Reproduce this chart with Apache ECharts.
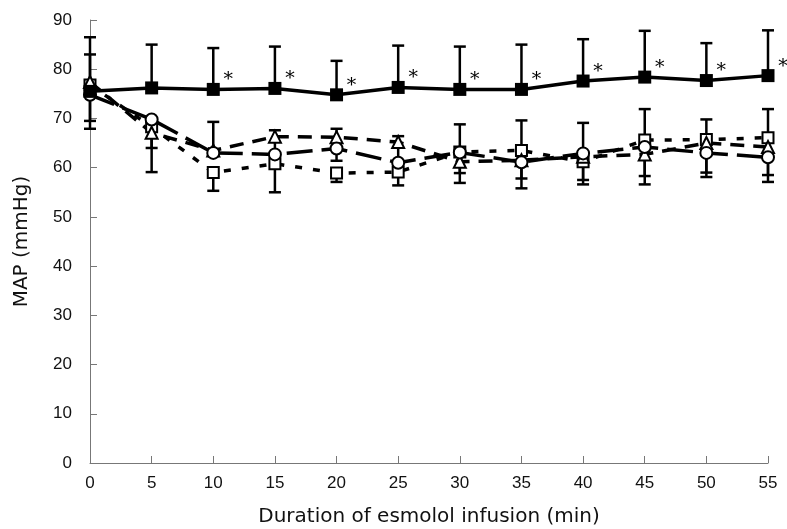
<!DOCTYPE html>
<html>
<head>
<meta charset="utf-8">
<script src="https://cdn.jsdelivr.net/npm/echarts@6/dist/echarts.min.js"></script>
<style>
html, body { margin: 0; padding: 0; background: #fff; }
#p1 { width: 787px; height: 529px; }
</style>
</head>
<body>
<div id="p1"></div>
<script>
// minutes of esmolol infusion
var times = [0, 5, 10, 15, 20, 25, 30, 35, 40, 45, 50, 55];

// mean MAP per group (mmHg)
var filledSq = [75.5, 76.2, 75.9, 76.1, 74.8, 76.3, 75.9, 75.9, 77.6, 78.4, 77.7, 78.7];
var openSq = [76.8, 68.3, 59.0, 60.8, 58.9, 59.1, 63.2, 63.5, 61.2, 65.6, 65.7, 66.1];
var openTri = [77.4, 67.1, 63.5, 66.3, 66.2, 65.2, 61.2, 61.5, 62.2, 62.7, 65.0, 64.2];
var openCirc = [74.8, 69.8, 63.0, 62.7, 63.9, 61.0, 63.1, 61.1, 62.9, 64.2, 63.0, 62.1];

// error bar end values (null = no bar)
var filledSqTop = [86.5, 85.0, 84.3, 84.6, 81.7, 84.8, 84.6, 85.0, 86.1, 87.8, 85.3, 87.9];
var openCircTop = [83.0, null, 69.3, 67.6, 67.9, 66.4, 68.8, 69.6, 69.1, 71.9, 69.8, 71.9];
var openTriLow = [69.5, 64.0, null, null, 61.4, null, 58.9, 57.8, 57.5, 58.3, 59.0, 58.5];
var openSqLow = [67.9, 59.1, 55.3, 55.0, 57.1, 56.4, 56.9, 55.8, 56.6, 56.6, 58.1, 57.1];

// significance marks next to the control group
var sig = [false, false, true, true, true, true, true, true, true, true, true, true];

function pairs(ys) {
    return times.map(function (t, i) { return [t, ys[i]]; });
}

function bars(means, ends) {
    var out = [];
    times.forEach(function (t, i) {
        if (ends[i] != null) out.push([t, means[i], ends[i]]);
    });
    return out;
}

function errorSeries(data) {
    return {
        type: 'custom',
        silent: true,
        z: 1,
        data: data,
        renderItem: function (params, api) {
            var a = api.coord([api.value(0), api.value(1)]);
            var b = api.coord([api.value(0), api.value(2)]);
            var w = 6;
            var st = { stroke: '#000', lineWidth: 2.5 };
            return {
                type: 'group',
                children: [
                    { type: 'line', shape: { x1: a[0], y1: a[1], x2: b[0], y2: b[1] }, style: st },
                    { type: 'line', shape: { x1: b[0] - w, y1: b[1], x2: b[0] + w, y2: b[1] }, style: st }
                ]
            };
        }
    };
}

var myChart1 = echarts.init(document.getElementById("p1"));
var option1 = {
    backgroundColor: '#fff',
    animation: false,
    textStyle: { fontFamily: 'Liberation Sans, Arial, sans-serif' },
    grid: {
        left: 90,
        right: 19,
        top: 20,
        bottom: 66,
        outerBoundsMode: 'none'
    },
    xAxis: {
        type: 'value',
        min: 0,
        max: 55,
        interval: 5,
        name: 'Duration of esmolol infusion (min)',
        nameLocation: 'middle',
        nameGap: 44,
        nameTextStyle: { color: '#111', fontSize: 20, fontFamily: 'DejaVu Sans' },
        axisLine: { lineStyle: { color: '#777', width: 1 } },
        axisTick: { inside: true, length: 7, lineStyle: { color: '#777' } },
        axisLabel: { color: '#111', fontSize: 17, margin: 12 },
        splitLine: { show: false }
    },
    yAxis: {
        type: 'value',
        min: 0,
        max: 90,
        interval: 10,
        name: 'MAP (mmHg)',
        nameLocation: 'middle',
        nameGap: 58,
        nameTextStyle: { color: '#111', fontSize: 20, fontFamily: 'DejaVu Sans' },
        axisLine: { show: true, lineStyle: { color: '#777', width: 1 } },
        axisTick: { inside: true, length: 7, lineStyle: { color: '#777' } },
        axisLabel: { color: '#111', fontSize: 17, margin: 18 },
        splitLine: { show: false }
    },
    series: [
        errorSeries(bars(filledSq, filledSqTop)),
        errorSeries(bars(openCirc, openCircTop)),
        errorSeries(bars(openTri, openTriLow)),
        errorSeries(bars(openSq, openSqLow)),
        {
            name: 'open square',
            type: 'line',
            z: 3,
            data: pairs(openSq),
            symbol: 'rect',
            symbolSize: 11,
            itemStyle: { color: '#fff', borderColor: '#000', borderWidth: 2 },
            lineStyle: { color: '#000', width: 3.5, type: [7, 11] }
        },
        {
            name: 'open triangle',
            type: 'line',
            z: 3,
            data: pairs(openTri),
            symbol: 'triangle',
            symbolSize: 12,
            itemStyle: { color: '#fff', borderColor: '#000', borderWidth: 2 },
            lineStyle: { color: '#000', width: 3.5, type: [14, 9] }
        },
        {
            name: 'open circle',
            type: 'line',
            z: 3,
            data: pairs(openCirc),
            symbol: 'circle',
            symbolSize: 12,
            itemStyle: { color: '#fff', borderColor: '#000', borderWidth: 2 },
            lineStyle: { color: '#000', width: 3.5, type: [26, 9] }
        },
        {
            name: 'filled square',
            type: 'line',
            z: 4,
            data: pairs(filledSq),
            symbol: 'rect',
            symbolSize: 13,
            itemStyle: { color: '#000' },
            lineStyle: { color: '#000', width: 3.5 },
            label: {
                show: true,
                position: 'inside',
                offset: [15, -9],
                color: '#000',
                fontSize: 19,
                fontFamily: 'DejaVu Serif',
                formatter: function (p) { return sig[p.dataIndex] ? '*' : ''; }
            }
        }
    ]
};
myChart1.setOption(option1);
</script>
</body>
</html>
